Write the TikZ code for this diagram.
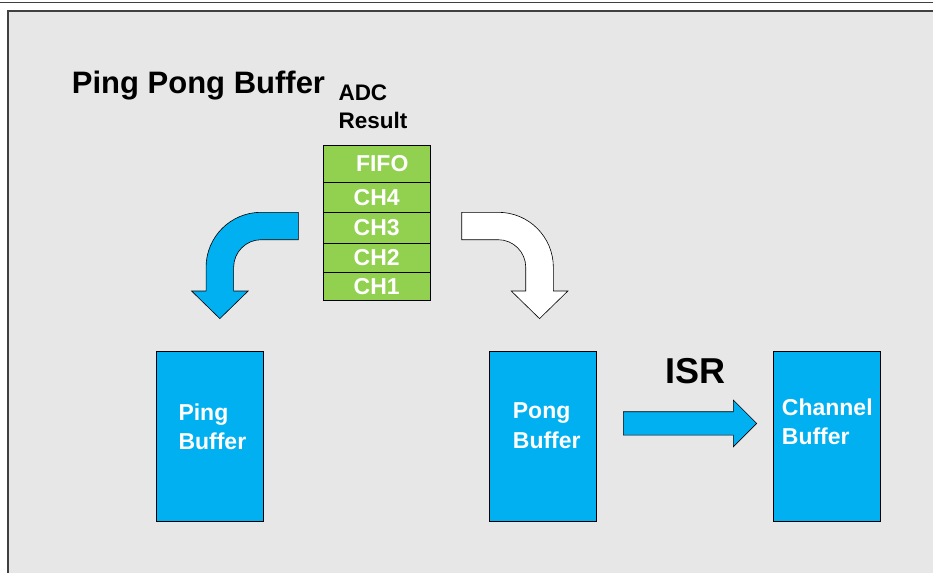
\documentclass[tikz,border=0pt]{standalone}
\usepackage{fontspec}
\setmainfont{Liberation Sans}
\usepackage{xcolor}
\usepackage{tikz}
\usetikzlibrary{positioning}
\definecolor{panelgray}{HTML}{E7E7E7}
\definecolor{bufblue}{HTML}{00B0F0}
\definecolor{fifogreen}{HTML}{92D050}
\definecolor{framegray}{HTML}{404040}

\tikzset{
    cell/.style={draw=black, line width=0.9pt, fill=fifogreen, minimum width=106.7pt,
                 inner sep=0pt, outer sep=0pt, text=white, font=\fontsize{23}{27}\selectfont\bfseries},
    bufbox/.style={draw=black, line width=1pt, fill=bufblue, minimum width=106.7pt,
                   minimum height=170pt, inner sep=0pt},
    buflabel/.style={anchor=north west, inner sep=0pt, align=left, text=white,
                     font=\fontsize{23}{29.3}\selectfont\bfseries},
    blockarrow/.style={draw=black, line width=0.6pt, line join=miter}
}

\begin{document}
\begin{tikzpicture}[x=1pt, y=-1pt]
    \useasboundingbox (0,0) rectangle (933,573);
    \fill[white] (0,0) rectangle (933,573);
    \draw[framegray, line width=1.2pt] (0,2.3) -- (933,2.3);
    \fill[panelgray] (7.7,11) rectangle (933,573);
    \draw[framegray, line width=2pt] (7.7,573) -- (7.7,11) -- (933,11);

    \node[anchor=base west, inner sep=0pt, font=\fontsize{31}{36}\selectfont\bfseries] (title) at (71.7,93.3) {Ping Pong Buffer};
    \node[anchor=north west, inner sep=0pt, align=left, font=\fontsize{22.5}{28.3}\selectfont\bfseries] (adc) at (338.3,84.3) {ADC\\Result};

    \node[cell, minimum height=37.7pt] (fifo) at (376.7,163.85) {\hspace*{11pt}FIFO};
    \node[cell, minimum height=29.6pt, below=0pt of fifo] (ch4) {CH4};
    \node[cell, minimum height=31pt, below=0pt of ch4] (ch3) {CH3};
    \node[cell, minimum height=29pt, below=0pt of ch3] (ch2) {CH2};
    \node[cell, minimum height=28.4pt, below=0pt of ch2] (ch1) {CH1};

    \node[bufbox] (ping) at (210,436.7) {};
    \node[bufbox] (pong) at (543.3,436.7) {};
    \node[bufbox] (chbuf) at (827,436.7) {};
    \node[buflabel] (pinglbl) at (178.3,403.3) {Ping\\Buffer};
    \node[buflabel] (ponglbl) at (512.7,402.7) {Pong\\Buffer};
    \node[buflabel] (chlbl) at (781.7,398.3) {Channel\\Buffer};

    \coordinate (lefttail) at ([xshift=-25pt]ch3.north west);
    \coordinate (righttail) at ([xshift=31.7pt]ch3.north east);
    \filldraw[blockarrow, fill=bufblue] (lefttail) -- ++(-37.3,0)
        arc[start angle=-90, end angle=-180, radius=55] -- ++(0,23.7) -- ++(-14.5,0)
        -- ++(28.3,27.6) -- ++(28.3,-27.6) -- ++(-14.5,0) -- ++(0,-23.7)
        arc[start angle=180, end angle=270, radius=27.6] -- (lefttail |- 0,239.7) -- cycle;
    \filldraw[blockarrow, fill=white] (righttail) -- ++(36.6,0)
        arc[start angle=-90, end angle=0, radius=55] -- ++(0,23.7) -- ++(14.5,0)
        -- ++(-28.3,27.6) -- ++(-28.3,-27.6) -- ++(14.5,0) -- ++(0,-23.7)
        arc[start angle=0, end angle=-90, radius=27.6] -- (righttail |- 0,239.7) -- cycle;

    \node[anchor=base, inner sep=0pt, font=\fontsize{36}{40}\selectfont\bfseries] (isr) at (695,383.3) {ISR};
    \coordinate (isrtail) at (623.3,411.7);
    \filldraw[blockarrow, fill=bufblue] (isrtail) -- ++(110,0) -- ++(0,-11.7) -- ++(23.4,23.4)
        -- ++(-23.4,23.4) -- ++(0,-11.7) -- ++(-110,0) -- cycle;
\end{tikzpicture}
\end{document}
